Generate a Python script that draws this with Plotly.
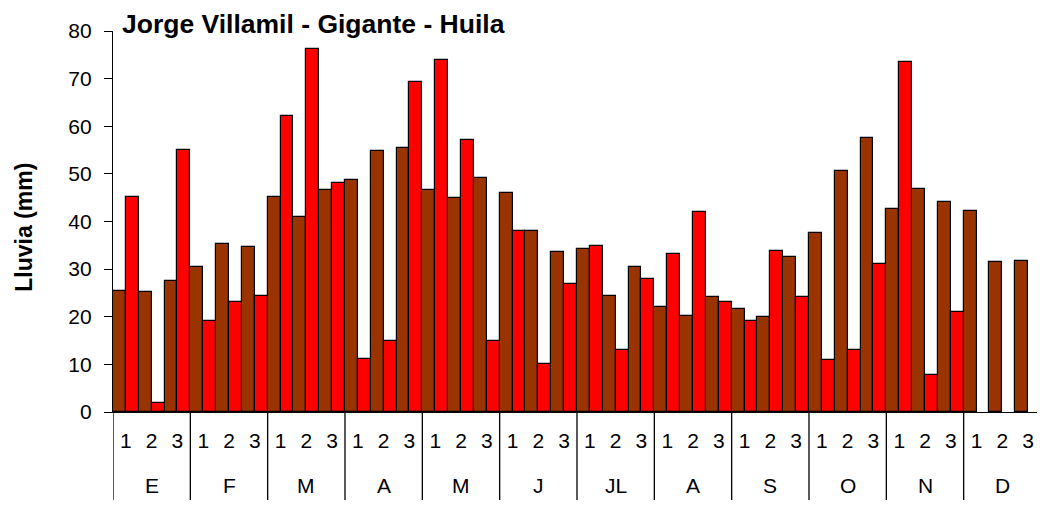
import plotly.graph_objects as go

months = ["E", "F", "M", "A", "M", "J", "JL", "A", "S", "O", "N", "D"]
decades = ["1", "2", "3"]

# brown series (first bar in each decade)
serie_cafe = [25.5, 25.1, 27.6, 30.4, 35.3, 34.6, 45.2, 40.9, 46.6,
              48.7, 54.7, 55.4, 46.6, 44.9, 49.1, 45.9, 38.1, 33.6,
              34.3, 24.4, 30.4, 22.0, 20.2, 24.1, 21.6, 19.9, 32.5,
              37.5, 50.5, 57.5, 42.7, 46.9, 44.1, 42.3, 31.4, 31.8]
# red series (second bar in each decade)
serie_roja = [45.2, 1.9, 55.0, 19.1, 23.0, 24.4, 62.2, 76.2, 48.0,
              11.1, 14.9, 69.2, 74.0, 57.1, 14.9, 38.1, 10.0, 26.9,
              34.9, 13.1, 27.9, 33.2, 42.0, 23.0, 19.1, 33.9, 24.1,
              11.0, 13.1, 31.1, 73.4, 7.8, 20.9, None, None, None]

# unique category ids (month names repeat: M, A)
cats = [f"{i}-{d}" for i in range(len(months)) for d in decades]
cat_text = [d for _ in months for d in decades]

FONT = "Liberation Sans, Arial, sans-serif"

fig = go.Figure()
fig.add_trace(go.Bar(x=cats, y=serie_cafe, name="Serie 1",
                     marker=dict(color="#993300", line=dict(color="black", width=1.2))))
fig.add_trace(go.Bar(x=cats, y=serie_roja, name="Serie 2",
                     marker=dict(color="#FF0000", line=dict(color="black", width=1.2))))

# month labels under the decade numbers + group dividers
for i, m in enumerate(months):
    fig.add_annotation(x=cats[3 * i + 1], y=-0.192, xref="x", yref="paper",
                       text=m, showarrow=False, yanchor="middle",
                       font=dict(size=21, family=FONT, color="black"))
for i in range(len(months) + 1):
    fig.add_shape(type="line", xref="x", yref="paper",
                  x0=3 * i - 0.5, x1=3 * i - 0.5, y0=0, y1=-0.231,
                  line=dict(color="black", width=1.3))

fig.add_annotation(text="<b>Lluvia (mm)</b>", textangle=-90, showarrow=False,
                   xref="paper", yref="paper", x=-0.096, y=0.486,
                   xanchor="center", yanchor="middle",
                   font=dict(size=23, family=FONT, color="black"))

# page body adds an 8px offset, so margins are shifted to compensate
fig.update_layout(
    width=1045, height=507,
    barmode="group", bargap=0, bargroupgap=0,
    showlegend=False,
    plot_bgcolor="white", paper_bgcolor="white",
    font=dict(family=FONT, size=21, color="black"),
    margin=dict(l=105, r=12, t=23, b=103),
    title=dict(text="<b>Jorge Villamil - Gigante - Huila</b>", x=0.0097, xanchor="left",
               xref="paper", yref="container", y=1 - 16 / 507, yanchor="middle",
               font=dict(size=26.5, family=FONT, color="black")),
)
fig.update_yaxes(range=[0, 80], dtick=10, showline=True, linecolor="black", linewidth=1.3,
                 ticks="outside", ticklen=8, tickcolor="black", tickwidth=1.3,
                 showgrid=False, zeroline=False, automargin=False,
                 ticklabelstandoff=8, tickfont=dict(size=21))
fig.update_xaxes(type="category", categoryorder="array", categoryarray=cats,
                 tickvals=cats, ticktext=cat_text,
                 showline=True, linecolor="black", linewidth=1.3, showgrid=False,
                 ticks="", automargin=False, ticklabelstandoff=10,
                 tickfont=dict(size=21), range=[-0.5, len(cats) - 0.5])

fig.write_html("out.html")
